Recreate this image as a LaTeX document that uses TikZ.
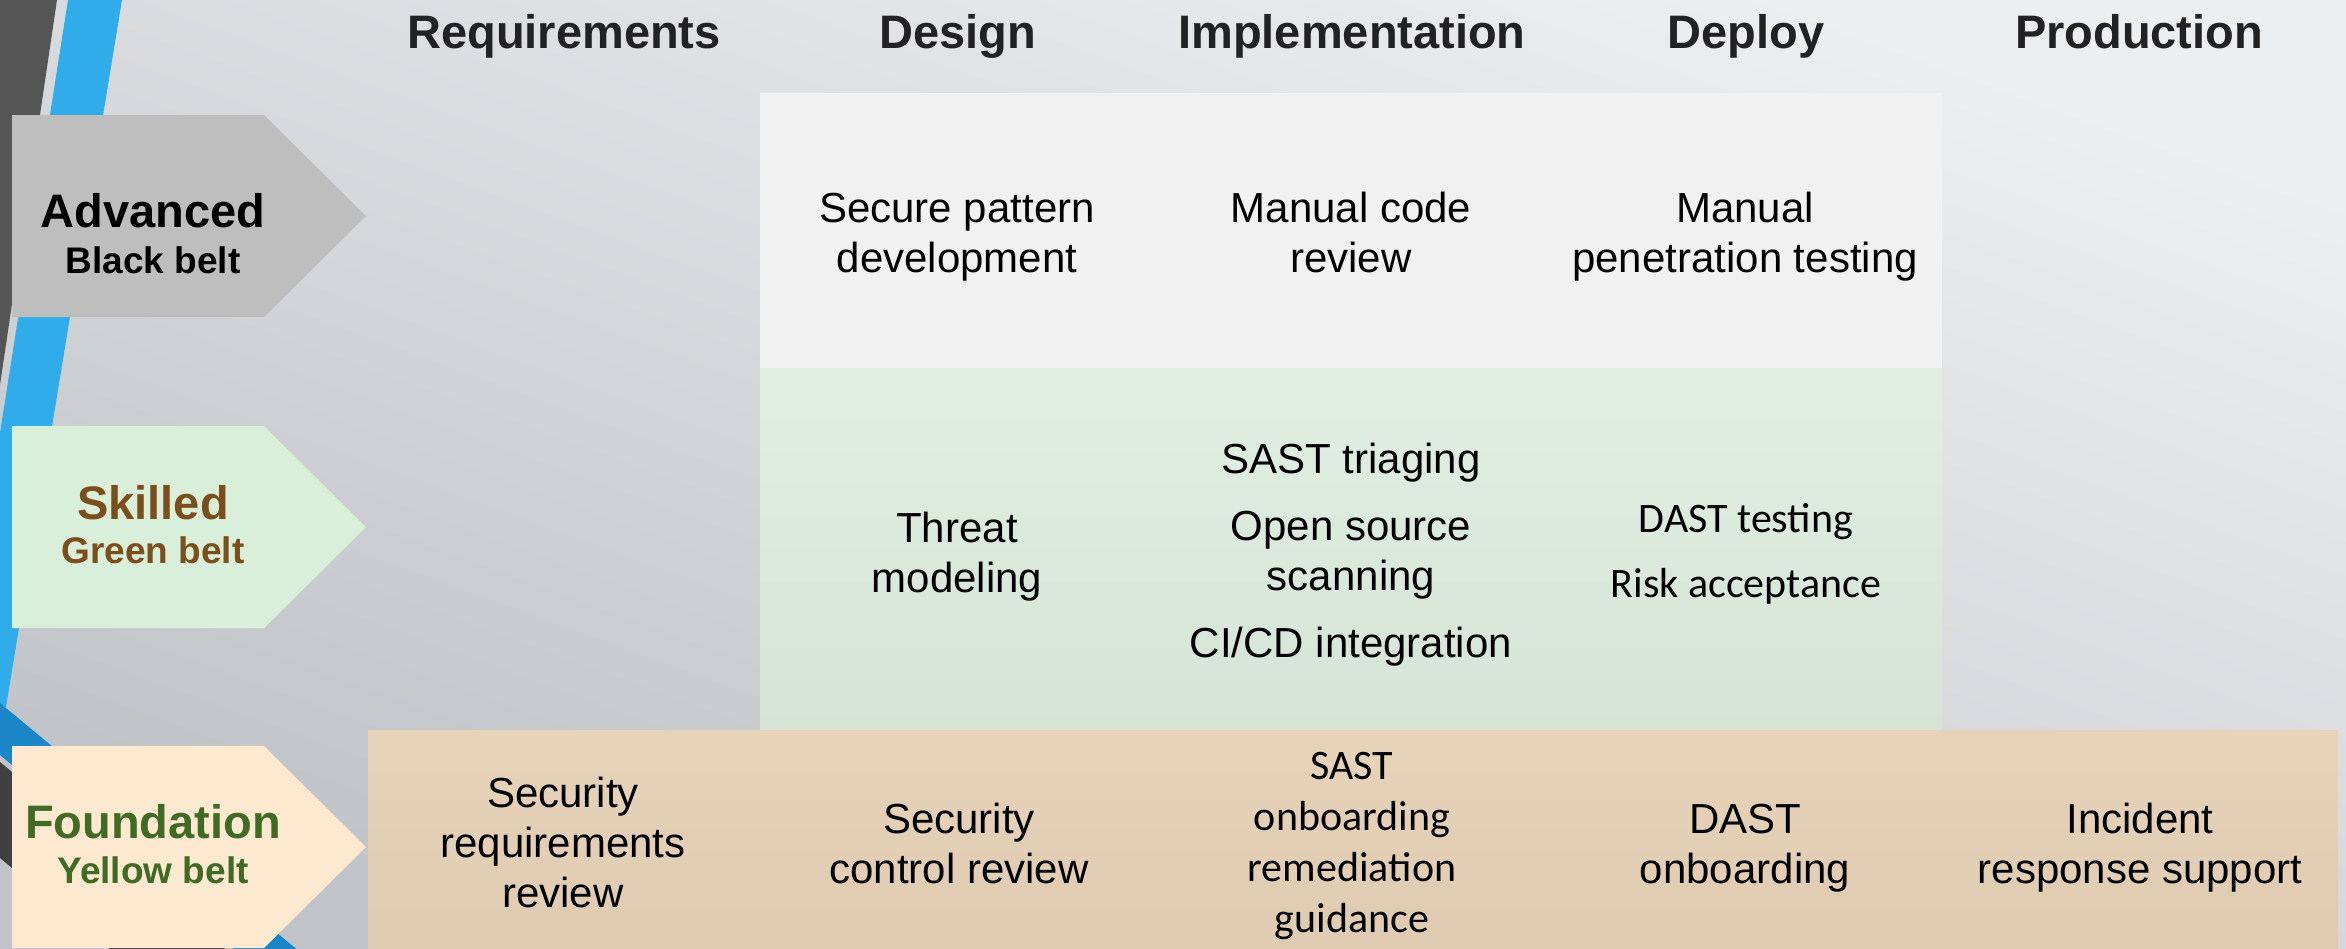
\documentclass[tikz,border=0pt]{standalone}
\usepackage{fontspec}
\setmainfont{Liberation Sans}
\newfontfamily\carl{Carlito}
\definecolor{hdrc}{HTML}{222222}
\definecolor{advfill}{HTML}{BEBEBE}
\definecolor{skfill}{HTML}{D9EFDA}
\definecolor{fdfill}{HTML}{FDE9D0}
\definecolor{sktext}{HTML}{7B4F1C}
\definecolor{fdtext}{HTML}{406B24}
\definecolor{topc}{HTML}{F1F1F1}
\definecolor{gtop}{HTML}{E1EFE2}
\definecolor{gbot}{HTML}{D6E3D7}
\definecolor{btop}{HTML}{E7D3B9}
\definecolor{bbot}{HTML}{DFCBB1}
\definecolor{bgtop}{HTML}{EDEEEF}
\definecolor{bgbot}{HTML}{C0C3C7}
\definecolor{stripeblue}{HTML}{30ACEA}
\definecolor{stripedblue}{HTML}{1B86C7}
\definecolor{stripedark}{HTML}{555555}
\definecolor{stripedarkb}{HTML}{404040}
\begin{document}
\begin{tikzpicture}[x=1bp,y=-1bp,
  hdr/.style={anchor=base, inner sep=0pt, text=hdrc, font=\fontsize{47bp}{56bp}\selectfont\bfseries},
  lvlmain/.style={anchor=base, inner sep=0pt, font=\fontsize{47bp}{56bp}\selectfont\bfseries},
  lvlsub/.style={anchor=base, inner sep=0pt, font=\fontsize{37bp}{44bp}\selectfont\bfseries},
  cell/.style={anchor=base, inner sep=0pt, align=center, font=\fontsize{42bp}{50bp}\selectfont},
  ccell/.style={anchor=base, inner sep=0pt, align=center, font=\carl\fontsize{42bp}{51bp}\selectfont}]
\useasboundingbox (0,0) rectangle (2346,948);
% background
\shade[top color=bgtop, bottom color=bgbot, shading angle=-20] (0,0) rectangle (2346,948);
\begin{scope}
\clip (0,0) rectangle (2346,948);
% left decorative stripes
\fill[stripedark] (0,0) -- (57,0) -- (0,385) -- cycle;
\fill[stripeblue] (68,0) -- (122,0) -- (6,707) -- (0,707) -- (0,433) -- cycle;
\fill[stripedblue] (0,703) -- (400,1035) -- (400,1087) -- (0,755) -- cycle;
\fill[stripedarkb] (0,762) -- (400,1094) -- (400,1190) -- (0,858) -- cycle;
\end{scope}
% panels
\fill[topc] (760,93) rectangle (1942,368);
\shade[top color=gtop, bottom color=gbot] (760,368) rectangle (1942,730);
\shade[top color=btop, bottom color=bbot] (368,730) rectangle (2338,948);
% level arrows
\fill[advfill] (12,115) -- (264,115) -- (366,216) -- (264,317) -- (12,317) -- cycle;
\fill[skfill] (12,426) -- (264,426) -- (366,527) -- (264,628) -- (12,628) -- cycle;
\fill[fdfill] (12,746) -- (264,746) -- (366,847) -- (264,948) -- (12,948) -- cycle;
% headers
\node[hdr] (hreq) at (564,48) {Requirements};
\node[hdr] (hdes) at (958,48) {Design};
\node[hdr] (himp) at (1352,48) {Implementation};
\node[hdr] (hdep) at (1746,48) {Deploy};
\node[hdr] (hprod) at (2139,48) {Production};
% level labels
\node[lvlmain, text=black] (adv) at (153,227) {Advanced};
\node[lvlsub, text=black] (advsub) at (153,273) {Black belt};
\node[lvlmain, text=sktext] (sk) at (153,519) {Skilled};
\node[lvlsub, text=sktext] (sksub) at (153,563) {Green belt};
\node[lvlmain, text=fdtext] (fd) at (153,838) {Foundation};
\node[lvlsub, text=fdtext] (fdsub) at (153,883) {Yellow belt};
% advanced row (anchor = baseline of last line)
\node[cell] (a1) at (957,272) {Secure pattern\\development};
\node[cell] (a2) at (1351,272) {Manual code\\review};
\node[cell] (a3) at (1745,272) {Manual\\penetration testing};
% skilled row
\node[cell] (s1) at (957,592) {Threat\\modeling};
\node[cell] (s2a) at (1351,473) {SAST triaging};
\node[cell] (s2b) at (1351,590) {Open source\\scanning};
\node[cell] (s2c) at (1351,657) {CI/CD integration};
\node[ccell] (s3a) at (1746,532) {DAST testing};
\node[ccell] (s3b) at (1746,597) {Risk acceptance};
% foundation row
\node[cell] (f0) at (563,907) {Security\\requirements\\review};
\node[cell] (f1) at (959,883) {Security\\control review};
\node[ccell] (f2) at (1352,932) {SAST\\onboarding\\remediation\\guidance};
\node[cell] (f3) at (1745,883) {DAST\\onboarding};
\node[cell] (f4) at (2140,883) {Incident\\response support};
\end{tikzpicture}
\end{document}
